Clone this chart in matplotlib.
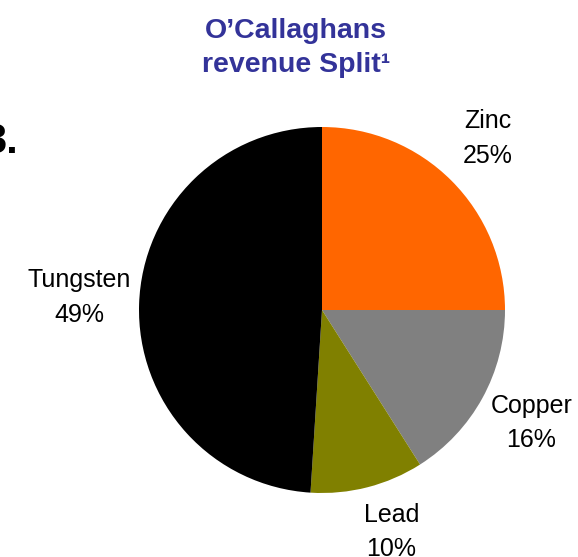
import matplotlib
matplotlib.use('Agg')
import matplotlib.pyplot as plt
import numpy as np

plt.rcParams['font.family'] = ['Liberation Sans', 'DejaVu Sans']

# Revenue split data (clockwise from 12 o'clock)
metals = ['Zinc', 'Copper', 'Lead', 'Tungsten']
shares = [25, 16, 10, 49]
colours = ['#FF6600', '#808080', '#808000', '#000000']

# small per-label nudges (pixels, x right / y up) so labels sit like the original
nudges = [(0, 6), (4, 0), (11, 5), (-9, 5)]

W, H = 578, 557
fig = plt.figure(figsize=(W / 100, H / 100), dpi=100)

# pie centre (322, 310) px, radius ~183 px -> axes spans 2.5 radii
cx, cy, r = 322, 310, 183
side = 2.5 * r
ax = fig.add_axes([(cx - side / 2) / W, (H - cy - side / 2) / H, side / W, side / H])

labels = [f"{m}\n{s}%" for m, s in zip(metals, shares)]
wedges, texts = ax.pie(shares, labels=labels, colors=colours, startangle=90,
                       counterclock=False, labeldistance=1.28,
                       wedgeprops=dict(linewidth=0),
                       textprops=dict(fontsize=18, color='black', linespacing=1.55))
for t, (dx, dy) in zip(texts, nudges):
    x, y = t.get_position()
    t.set_position((x + dx / r, y + dy / r))
    t.set_horizontalalignment('center')
    t.set_multialignment('center')
ax.set_aspect('equal')

# title
fig.text(296 / W, 1 - 72 / H, "O\u2019Callaghans\nrevenue Split\u00b9", ha='center', va='baseline',
         fontsize=20.5, fontweight='bold', color='#333399', linespacing=1.4)

# section number, clipped at the left edge
fig.text(18 / W, 1 - 153 / H, "3.", ha='right', va='baseline',
         fontsize=30, fontweight='bold', color='black')

fig.savefig('out.png', dpi=100)
